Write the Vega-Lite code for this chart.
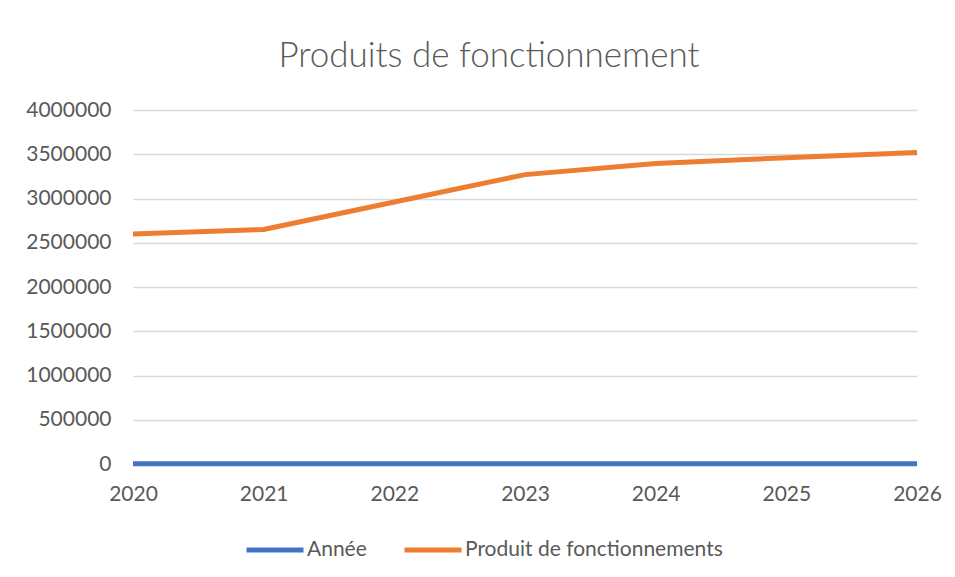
{
  "$schema": "https://vega.github.io/schema/vega-lite/v6.json",
  "width": 784,
  "height": 354,
  "autosize": {"type": "none"},
  "padding": {"left": 133, "top": 110, "right": 38, "bottom": 113},
  "background": "white",
  "title": {
    "text": "Produits de fonctionnement",
    "font": "Lato",
    "fontSize": 35,
    "fontWeight": 300,
    "color": "#595959",
    "anchor": "middle",
    "dx": -36,
    "offset": 25
  },
  "data": {
    "values": [
      {"annee": "2020", "serie": "Année", "valeur": 2020},
      {"annee": "2021", "serie": "Année", "valeur": 2021},
      {"annee": "2022", "serie": "Année", "valeur": 2022},
      {"annee": "2023", "serie": "Année", "valeur": 2023},
      {"annee": "2024", "serie": "Année", "valeur": 2024},
      {"annee": "2025", "serie": "Année", "valeur": 2025},
      {"annee": "2026", "serie": "Année", "valeur": 2026},
      {"annee": "2020", "serie": "Produit de fonctionnements", "valeur": 2600000},
      {"annee": "2021", "serie": "Produit de fonctionnements", "valeur": 2650000},
      {"annee": "2022", "serie": "Produit de fonctionnements", "valeur": 2960000},
      {"annee": "2023", "serie": "Produit de fonctionnements", "valeur": 3270000},
      {"annee": "2024", "serie": "Produit de fonctionnements", "valeur": 3395000},
      {"annee": "2025", "serie": "Produit de fonctionnements", "valeur": 3460000},
      {"annee": "2026", "serie": "Produit de fonctionnements", "valeur": 3520000}
    ]
  },
  "mark": {"type": "line", "strokeWidth": 5, "strokeCap": "butt"},
  "encoding": {
    "x": {
      "field": "annee",
      "type": "ordinal",
      "scale": {"padding": 0},
      "axis": {
        "title": null,
        "labelAngle": 0,
        "labelFont": "Lato",
        "labelFontSize": 21,
        "labelColor": "#595959",
        "labelPadding": 19,
        "ticks": false,
        "domain": false,
        "grid": false
      }
    },
    "y": {
      "field": "valeur",
      "type": "quantitative",
      "scale": {"domain": [0, 4000000]},
      "axis": {
        "title": null,
        "values": [0, 500000, 1000000, 1500000, 2000000, 2500000, 3000000, 3500000, 4000000],
        "format": "d",
        "labelFont": "Lato",
        "labelFontSize": 21,
        "labelColor": "#595959",
        "labelPadding": 22,
        "ticks": false,
        "domain": false,
        "grid": true,
        "gridColor": "#D9D9D9",
        "gridWidth": 1.5
      }
    },
    "color": {
      "field": "serie",
      "type": "nominal",
      "scale": {
        "domain": ["Année", "Produit de fonctionnements"],
        "range": ["#4472C4", "#ED7D31"]
      },
      "legend": {
        "title": null,
        "orient": "none",
        "direction": "horizontal",
        "legendX": 111,
        "legendY": 409,
        "symbolType": "stroke",
        "symbolSize": 3249,
        "symbolStrokeWidth": 5,
        "labelFont": "Lato",
        "labelFontSize": 21,
        "labelColor": "#595959",
        "labelOffset": 1,
        "labelLimit": 400,
        "columnPadding": 27
      }
    }
  },
  "config": {"view": {"stroke": null}}
}
